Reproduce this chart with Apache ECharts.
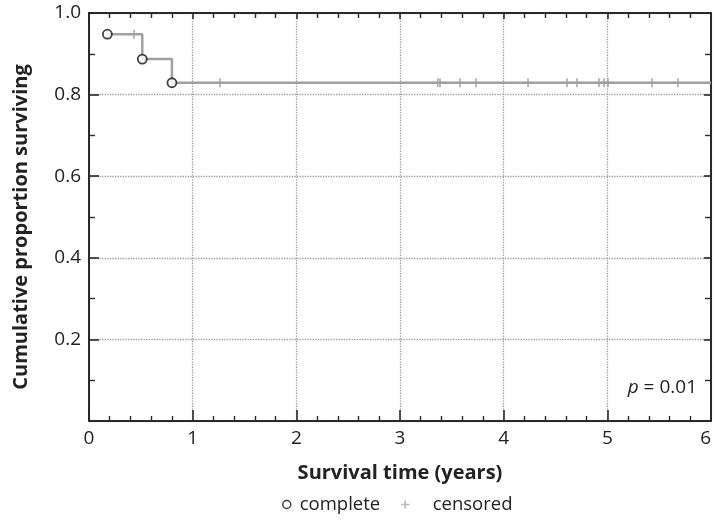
<!DOCTYPE html>
<html><head><meta charset="utf-8">
<script src="https://cdn.jsdelivr.net/npm/echarts@6/dist/echarts.min.js"></script>
<style>html,body{margin:0;padding:0;background:#fff}#c{width:714px;height:520px}</style>
</head><body><div id="c"></div>
<script>
// Survival curve (step), complete events and censored observations
const curveX = [0.177, 0.514, 0.80, 6.0];
const curveY = [0.948, 0.887, 0.829, 0.829];
const completeX = [0.177, 0.514, 0.80];
const completeY = [0.948, 0.887, 0.829];
const censoredX = [0.434, 1.264, 3.364, 3.386, 3.579, 3.733, 4.235, 4.611, 4.707, 4.919, 4.968, 5.006, 5.43, 5.68];
const censoredY = [0.948, 0.829, 0.829, 0.829, 0.829, 0.829, 0.829, 0.829, 0.829, 0.829, 0.829, 0.829, 0.829, 0.829];
const xTicks = ['0','1','2','3','4','5','6'];
const yTicks = ['0','0.2','0.4','0.6','0.8','1.0'];

const FONT = '"Open Sans", sans-serif';
const plus = 'path://M3.2,0h1.6v8h-1.6z M0,3.2h8v1.6h-8z';
const AX = '#2a2a2a';
const chart = echarts.init(document.getElementById('c'));
chart.setOption({
  animation: false,
  grid: {left: 89, right: 3, top: 13, bottom: 99},
  legend: {
    bottom: 1, left: 277, itemGap: 21, itemWidth: 16, itemHeight: 8,
    textStyle: {fontFamily: FONT, fontSize: 18.5, color: '#222'},
    formatter: n => n === 'censored' ? '   ' + n : n,
    data: [
      {name: 'complete', icon: 'circle', itemStyle: {color: '#fff', borderColor: '#111', borderWidth: 1.5}},
      {name: 'censored', icon: plus, itemStyle: {color: '#a8a8a8', borderWidth: 0}}
    ]
  },
  xAxis: [
    {type: 'value', min: 0, max: 6, interval: 1, position: 'bottom',
     axisLine: {show: true, lineStyle: {color: AX, width: 2}},
     axisTick: {show: true, inside: true, length: 11, lineStyle: {color: AX, width: 1.6}},
     minorTick: {show: true, splitNumber: 5, length: 5, lineStyle: {color: AX, width: 1.4}},
     splitLine: {show: false},
     axisLabel: {fontFamily: FONT, fontSize: 19, color: '#222', margin: 8, alignMaxLabel: 'right',
       formatter: v => xTicks[Math.round(v)]},
     name: 'Survival time (years)', nameLocation: 'middle', nameGap: 42,
     nameTextStyle: {fontFamily: FONT, fontSize: 20, fontWeight: 'bold', color: '#222'}},
    {type: 'value', min: 0, max: 6, interval: 1, position: 'top',
     axisLine: {show: true, onZero: false, lineStyle: {color: AX, width: 2}},
     axisTick: {show: true, inside: true, length: 6, lineStyle: {color: AX, width: 1.6}},
     minorTick: {show: true, splitNumber: 5, length: 5, lineStyle: {color: AX, width: 1.4}},
     splitLine: {show: false}, axisLabel: {show: false}},
    {type: 'value', min: 0, max: 6, interval: 1, position: 'bottom',
     axisLine: {show: false}, axisTick: {show: false}, axisLabel: {show: false},
     splitLine: {show: true, lineStyle: {color: '#9a9a9a', type: 'dotted', width: 1.3}}}
  ],
  yAxis: [
    {type: 'value', min: 0, max: 1, interval: 0.2, position: 'left',
     axisLine: {show: true, lineStyle: {color: AX, width: 2}},
     axisTick: {show: true, inside: true, length: 10, lineStyle: {color: AX, width: 1.6}},
     minorTick: {show: true, splitNumber: 2, length: 6, lineStyle: {color: AX, width: 1.4}},
     splitLine: {show: false},
     axisLabel: {fontFamily: FONT, fontSize: 19, color: '#222', margin: 8,
       formatter: v => { const i = Math.round(v * 5); return i === 0 ? '' : yTicks[i]; }},
     name: 'Cumulative proportion surviving', nameLocation: 'middle', nameGap: 58,
     nameTextStyle: {fontFamily: FONT, fontSize: 20, fontWeight: 'bold', color: '#222', padding: [0, 20, 0, 0]}},
    {type: 'value', min: 0, max: 1, interval: 0.2, position: 'right',
     axisLine: {show: true, onZero: false, lineStyle: {color: AX, width: 2}},
     axisTick: {show: true, inside: true, length: 7, lineStyle: {color: AX, width: 1.6}},
     minorTick: {show: true, splitNumber: 2, length: 6, lineStyle: {color: AX, width: 1.4}},
     splitLine: {show: false}, axisLabel: {show: false}},
    {type: 'value', min: 0, max: 1, interval: 0.2, position: 'left',
     axisLine: {show: false}, axisTick: {show: false}, axisLabel: {show: false},
     splitLine: {show: true, lineStyle: {color: '#9a9a9a', type: 'dotted', width: 1.3}}}
  ],
  graphic: [{
    type: 'text', x: 697, y: 388,
    style: {
      text: '{i|p} = 0.01', fontFamily: FONT, fontSize: 19, fill: '#222',
      align: 'right', verticalAlign: 'middle',
      rich: {i: {fontStyle: 'italic', fontFamily: FONT, fontSize: 19, fill: '#222'}}
    }
  }],
  series: [
    {
      type: 'line', name: 'curve', step: 'end', symbol: 'none', silent: true,
      lineStyle: {color: '#a0a0a0', width: 2.5}, z: 2,
      data: curveX.map((x, i) => [x, curveY[i]])
    },
    {
      type: 'scatter', name: 'censored', symbol: plus, symbolSize: [9, 9],
      itemStyle: {color: '#a0a0a0'}, z: 3,
      data: censoredX.map((x, i) => [x, censoredY[i]])
    },
    {
      type: 'scatter', name: 'complete', symbol: 'circle', symbolSize: 9,
      itemStyle: {color: '#fff', borderColor: '#111', borderWidth: 1.8}, z: 4,
      data: completeX.map((x, i) => [x, completeY[i]])
    }
  ]
});
</script></body></html>
